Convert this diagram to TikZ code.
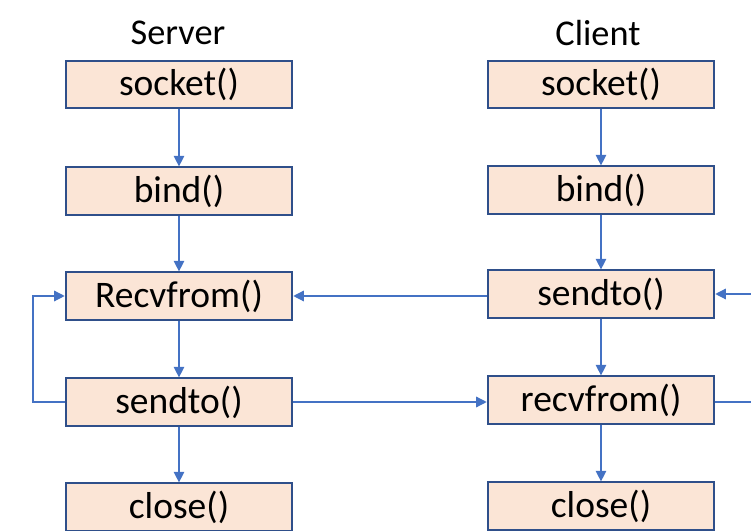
\documentclass[tikz,border=0pt]{standalone}
\usepackage{fontspec}
\setmainfont{Carlito}
\usetikzlibrary{arrows.meta}
\definecolor{boxfill}{HTML}{FBE5D6}
\definecolor{boxline}{HTML}{2F4F8A}
\definecolor{arrowblue}{HTML}{4472C4}

\begin{document}
\begin{tikzpicture}[x=0.03cm, y=0.03cm]
        % Styles for the call boxes and the connectors
        \tikzset{
            call/.style={draw=boxline, line width=1.6pt, fill=boxfill, minimum width=6.8cm, minimum height=1.42cm, inner sep=0pt, font=\fontsize{32}{38}\selectfont},
            head/.style={font=\fontsize{31}{37}\selectfont},
            link/.style={draw=arrowblue, line width=1.1pt},
            arr/.style={link, -{Triangle[length=9pt, width=9pt]}}
        }
        \useasboundingbox (0,0) rectangle (751,531);

        % Server column
        \node[head] (server) at (178,498) {Server};
        \node[call] (ssock) at (179,446.5) {socket()};
        \node[call] (sbind) at (179,340) {bind()};
        \node[call] (srecv) at (179,235) {Recvfrom()};
        \node[call] (ssend) at (179,129) {sendto()};
        \node[call] (sclose) at (179,24) {close()};

        % Client column
        \node[head] (client) at (598,498) {Client};
        \node[call] (csock) at (601,446.5) {socket()};
        \node[call] (cbind) at (601,341) {bind()};
        \node[call] (csend) at (601,237) {sendto()};
        \node[call] (crecv) at (601,131) {recvfrom()};
        \node[call] (cclose) at (601,25) {close()};

        % Server flow
        \draw[arr] (ssock) -- (sbind);
        \draw[arr] (sbind) -- (srecv);
        \draw[arr] (srecv) -- (ssend);
        \draw[arr] (ssend) -- (sclose);
        \coordinate (loop) at (33,129);
        \draw[arr] (ssend.west) -- (loop) |- (srecv.west);

        % Client flow
        \draw[arr] (csock) -- (cbind);
        \draw[arr] (cbind) -- (csend);
        \draw[arr] (csend) -- (crecv);
        \draw[arr] (crecv) -- (cclose);

        % Messages between the two
        \draw[arr] (csend.west |- srecv) -- (srecv.east);
        \draw[arr] (ssend.east) -- (crecv.west |- ssend);
        \coordinate (rin) at (751,237);
        \coordinate (rout) at (751,129);
        \draw[arr] (rin) -- (csend.east);
        \draw[link] (crecv.east |- rout) -- (rout);
\end{tikzpicture}
\end{document}
